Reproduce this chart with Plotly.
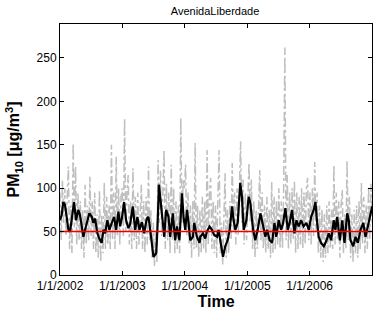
import plotly.graph_objects as go
import pandas as pd

title_text = "AvenidaLiberdade"
start_date = "2002-01-01"
end_date = "2007-01-01"
limit_value = 50

tick_dates = ["2002-01-01", "2003-01-01", "2004-01-01", "2005-01-01", "2006-01-01"]
tick_labels = ["1/1/2002", "1/1/2003", "1/1/2004", "1/1/2005", "1/1/2006"]
y_ticks = [0, 50, 100, 150, 200, 250]

# daily PM10 (sampled weekly) -- grey dashed series, one row per year
gray_2002 = [95, 40, 109, 60, 100, 45, 90, 125, 30, 80, 25, 152, 55, 125, 35, 95, 40, 85, 30, 75,
             20, 104, 35, 80, 40, 113, 45, 85, 30, 95, 25, 70, 20, 98, 15, 70, 25, 106, 30, 90,
             35, 80, 30, 150, 40, 95, 30, 136, 45, 100, 35, 90]
gray_2003 = [100, 45, 180, 50, 95, 115, 35, 85, 30, 123, 40, 90, 30, 95, 35, 80, 104, 30, 85, 25,
             90, 35, 125, 40, 75, 20, 60, 10, 50, 15, 132, 60, 120, 45, 95, 144, 30, 105, 40, 95,
             25, 127, 40, 100, 25, 85, 30, 80, 25, 181, 60, 110]
gray_2004 = [100, 127, 45, 95, 35, 80, 20, 85, 30, 152, 30, 80, 20, 75, 25, 90, 30, 85, 25, 144,
             35, 95, 112, 30, 85, 25, 80, 20, 90, 144, 25, 60, 12, 55, 117, 20, 75, 25, 85, 40,
             129, 50, 95, 35, 100, 45, 120, 154, 60, 110, 35, 95]
gray_2005 = [40, 100, 129, 60, 110, 30, 85, 20, 75, 30, 90, 121, 40, 95, 30, 80, 25, 90, 30, 75,
             20, 107, 25, 90, 30, 85, 35, 100, 30, 85, 30, 100, 262, 40, 115, 30, 95, 35, 100, 40,
             109, 25, 95, 30, 90, 35, 100, 30, 95, 35, 100, 112]
gray_2006 = [40, 95, 35, 100, 45, 130, 50, 95, 25, 80, 20, 75, 15, 70, 20, 80, 25, 85, 30, 75,
             30, 127, 35, 95, 40, 85, 20, 80, 98, 25, 70, 30, 132, 40, 90, 20, 70, 15, 75, 25,
             80, 20, 85, 30, 106, 35, 90, 25, 80, 30, 102, 40, 105, 60]
gray_step_days = 7

# smoothed PM10 -- black series (days since start, value)
black_days = [0, 10, 19, 29, 39, 49, 59, 69, 82, 94, 107, 117, 127, 137, 152, 172, 186, 195, 205, 219,
              230, 244, 254, 264, 277, 289, 303, 317, 328, 342, 352, 362, 375, 387, 400, 410, 426, 440,
              453, 465, 479, 492, 508, 518, 528, 538, 547, 563, 570, 579, 590, 602, 610, 621, 635, 645,
              660, 674, 684, 699, 714, 723, 733, 743, 752, 762, 778, 786, 801, 817, 821, 837, 850, 860,
              875, 889, 903, 919, 928, 942, 954, 967, 981, 993, 1007, 1016, 1026, 1040, 1055, 1065, 1075,
              1091, 1104, 1114, 1130, 1143, 1157, 1173, 1188, 1202, 1212, 1227, 1241, 1255, 1266, 1280,
              1294, 1306, 1319, 1333, 1344, 1358, 1372, 1384, 1397, 1411, 1426, 1442, 1456, 1470, 1485,
              1495, 1505, 1514, 1528, 1544, 1560, 1573, 1587, 1602, 1612, 1622, 1638, 1652, 1665, 1681,
              1690, 1700, 1716, 1730, 1743, 1759, 1775, 1788, 1802, 1817, 1827]
black_vals = [63, 69, 84, 81, 67, 52, 50, 63, 84, 63, 75, 69, 54, 44, 56, 71, 67, 60, 65, 48,
              42, 37, 52, 48, 63, 52, 60, 67, 52, 73, 56, 65, 84, 63, 54, 58, 79, 52,
              67, 52, 61, 48, 65, 67, 52, 33, 21, 25, 52, 104, 86, 60, 44, 75, 67, 44,
              71, 40, 56, 40, 94, 67, 52, 75, 61, 40, 44, 60, 44, 37, 44, 48, 42, 50,
              56, 52, 46, 44, 52, 33, 21, 33, 40, 52, 79, 63, 52, 60, 106, 90, 52,
              63, 90, 83, 52, 40, 52, 71, 56, 44, 52, 40, 37, 60, 44, 63,
              52, 60, 77, 52, 60, 75, 48, 63, 56, 63, 56, 60, 52, 67, 75,
              84, 60, 44, 37, 33, 40, 48, 40, 63, 52, 67, 40, 63, 37, 71,
              63, 40, 33, 44, 37, 52, 60, 44, 56, 71, 79]

gray_vals = gray_2002 + gray_2003 + gray_2004 + gray_2005 + gray_2006
t0 = pd.Timestamp(start_date)
gray_x = [t0 + pd.Timedelta(days=gray_step_days * i) for i in range(len(gray_vals))]
black_x = [t0 + pd.Timedelta(days=d) for d in black_days]

fig = go.Figure()
fig.add_trace(go.Scatter(x=gray_x, y=gray_vals, mode="lines",
                         line=dict(color="#bfbfbf", width=1.5, dash="dashdot"),
                         hoverinfo="skip", showlegend=False))
fig.add_trace(go.Scatter(x=black_x, y=black_vals, mode="lines",
                         line=dict(color="black", width=2.2),
                         showlegend=False))
fig.add_trace(go.Scatter(x=[start_date, end_date], y=[limit_value, limit_value], mode="lines",
                         line=dict(color="#ee0000", width=1.5),
                         showlegend=False))

fig.update_layout(
    width=374, height=310,
    margin=dict(l=60, r=2, t=24, b=35),
    paper_bgcolor="white", plot_bgcolor="white",
    font=dict(family="Liberation Sans, Arial, sans-serif", color="black", size=12),
    title=dict(text=title_text, x=0.575, xanchor="center", y=0.965, yanchor="middle",
               font=dict(size=11)),
    xaxis=dict(range=[start_date, end_date], tickvals=tick_dates, ticktext=tick_labels,
               ticks="inside", ticklen=4, tickcolor="black", showline=True, linecolor="black",
               linewidth=1, mirror="ticks", showgrid=False, zeroline=False,
               tickfont=dict(size=12),
               title=dict(text="<b>Time</b>", font=dict(size=16), standoff=0)),
    yaxis=dict(range=[0, 289], tickvals=y_ticks, ticks="inside", ticklen=4, tickcolor="black",
               showline=True, linecolor="black", linewidth=1, mirror="ticks",
               showgrid=False, zeroline=False, tickfont=dict(size=12),
               title=dict(text="<b>PM<sub>10</sub> [μg/m<sup>3</sup>]</b>", font=dict(size=16),
                          standoff=12)),
)

fig.write_html("out.html", config={"displayModeBar": False},
               post_script="document.body.style.margin='0';document.body.style.overflow='hidden';")
